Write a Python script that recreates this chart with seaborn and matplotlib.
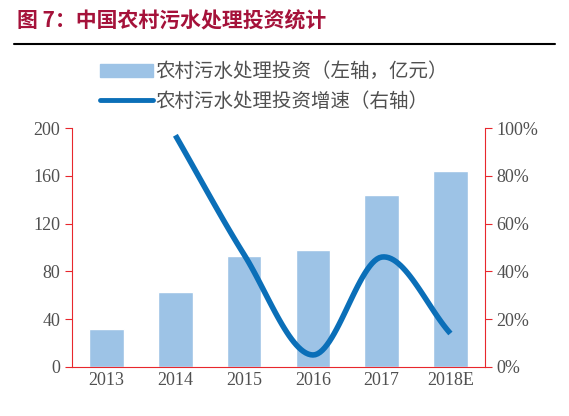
import matplotlib

matplotlib.use("Agg")
import matplotlib.pyplot as plt
import numpy as np
import pandas as pd
import seaborn as sns
from matplotlib.lines import Line2D
from matplotlib.patches import Patch

sns.set_style("white")
plt.rcParams["font.family"] = ["Noto Sans CJK SC", "DejaVu Sans"]

years = ["2013", "2014", "2015", "2016", "2017", "2018E"]
invest = [32, 63, 93, 98, 144, 164]
growth_years = ["2014", "2015", "2016", "2017", "2018E"]
growth = [97, 47, 5, 46, 14]

BAR = "#9dc3e6"
LINE = "#0b6fb8"
RED = "#e8272d"


def smooth(x, y, n=30):
    # Catmull-Rom rendering between the read points
    x, y = np.asarray(x, float), np.asarray(y, float)
    px = np.concatenate([[2 * x[0] - x[1]], x, [2 * x[-1] - x[-2]]])
    py = np.concatenate([[2 * y[0] - y[1]], y, [2 * y[-1] - y[-2]]])
    xs, ys = [], []
    t = np.linspace(0, 1, n)
    for i in range(1, len(px) - 2):
        for p, out in ((px, xs), (py, ys)):
            p0, p1, p2, p3 = p[i - 1], p[i], p[i + 1], p[i + 2]
            out.extend(0.5 * (2 * p1 + (-p0 + p2) * t + (2 * p0 - 5 * p1 + 4 * p2 - p3) * t**2
                              + (-p0 + 3 * p1 - 3 * p2 + p3) * t**3))
    return xs, ys


fig = plt.figure(figsize=(5.69, 4.16), dpi=100)
ax = fig.add_axes([0.127, 0.118, 0.725, 0.574])
df = pd.DataFrame({"year": years, "invest": invest})
sns.barplot(df, x="year", y="invest", color=BAR, width=0.5, saturation=1, ax=ax)
ax.set_ylim(0, 200)
ax.set_yticks(range(0, 201, 40))
ax.set_xlabel("")
ax.set_ylabel("")
ax.set_xlim(-0.5, 5.5)

ax2 = ax.twinx()
gx = [years.index(y) for y in growth_years]
sx, sy = smooth(gx, growth)
ax2.plot(sx, sy, color=LINE, lw=4, solid_capstyle="butt")
ax2.set_ylim(0, 100)
ax2.set_yticks(range(0, 101, 20))
ax2.set_yticklabels([f"{v}%" for v in range(0, 101, 20)])

for a in (ax, ax2):
    for s in a.spines.values():
        s.set_visible(False)
    a.tick_params(labelsize=13, colors="#505050", length=0)
ax.spines["left"].set_visible(True)
ax.spines["left"].set_color(RED)
ax.spines["bottom"].set_visible(True)
ax.spines["bottom"].set_color(RED)
ax2.spines["right"].set_visible(True)
ax2.spines["right"].set_color(RED)
for t in ax.get_xticklabels() + ax.get_yticklabels() + ax2.get_yticklabels():
    t.set_fontfamily(["Liberation Serif", "DejaVu Serif"])
ax.tick_params(axis="y", length=5, direction="out", color=RED)
ax2.tick_params(axis="y", length=5, direction="out", color=RED)
ax.set_xticks(np.arange(-0.5, 6, 1), minor=True)
ax.tick_params(axis="x", which="minor", length=5, direction="in", color=RED)

fig.text(0.03, 0.95, "图 7：中国农村污水处理投资统计", color="#a5123a",
         fontsize=15, fontweight="bold", va="center")
fig.add_artist(Line2D([0.025, 0.975], [0.895, 0.895], color="black", lw=1.5))
fig.legend(handles=[Patch(color=BAR, label="农村污水处理投资（左轴，亿元）"),
                    Line2D([], [], color=LINE, lw=3.5, label="农村污水处理投资增速（右轴）")],
           loc="center left", bbox_to_anchor=(0.145, 0.792), frameon=False,
           fontsize=14, labelcolor="#505050", handlelength=2.7, labelspacing=0.45,
           handletextpad=0.15)

fig.savefig("out.png", dpi=100)
